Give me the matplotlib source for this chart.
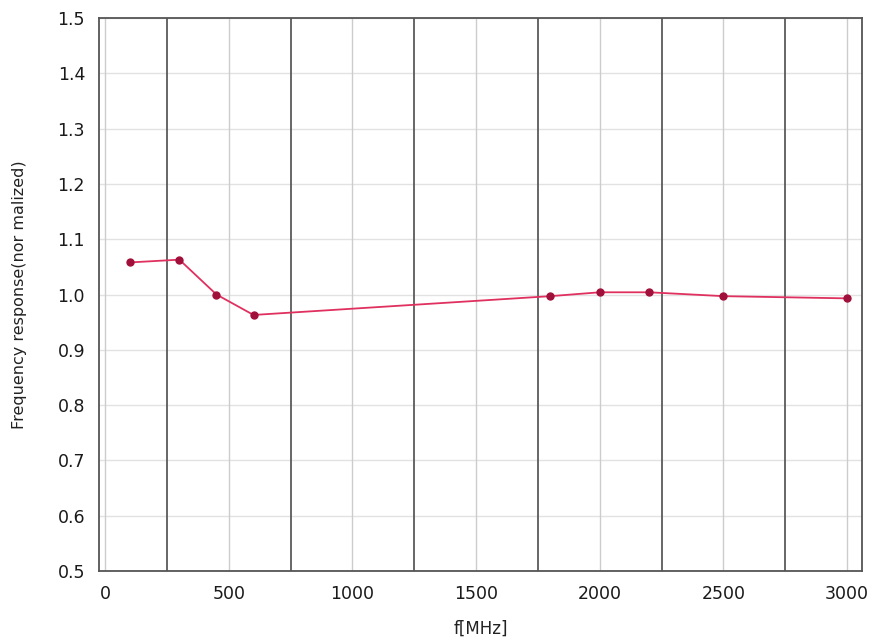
import matplotlib
matplotlib.use("Agg")
import matplotlib.pyplot as plt
import numpy as np

freq_mhz = [100, 300, 450, 600, 1800, 2000, 2200, 2500, 3000]
response = [1.058, 1.063, 1.0, 0.963, 0.997, 1.004, 1.004, 0.997, 0.993]
x_ticks = [0, 500, 1000, 1500, 2000, 2500, 3000]
y_ticks = [0.5, 0.6, 0.7, 0.8, 0.9, 1.0, 1.1, 1.2, 1.3, 1.4, 1.5]
dark_lines = [250, 750, 1250, 1750, 2250, 2750]

fig = plt.figure(figsize=(8.72, 6.44), dpi=100)
ax = fig.add_axes([0.1135, 0.1134, 0.875, 0.8586])

for y in y_ticks:
    ax.axhline(y, color="#e2e2e2", lw=1.0, zorder=0)
for x in x_ticks:
    ax.axvline(x, color="#cccccc", lw=1.0, zorder=0)
for x in dark_lines:
    ax.axvline(x, color="#5a5a5a", lw=1.3, zorder=0.5)

ax.plot(freq_mhz, response, color="#e0305f", lw=1.3, zorder=2)
ax.plot(freq_mhz, response, 'o', color="#a0103a", ms=5, zorder=3)

ax.set_xlim(-25, 3060)
ax.set_ylim(0.5, 1.5)
ax.set_xticks(x_ticks)
ax.set_yticks(y_ticks)
ax.set_yticklabels([f"{v:.1f}" for v in y_ticks])
ax.tick_params(length=0, labelsize=12.5, colors="#1a1a1a", pad=10)
for s in ax.spines.values():
    s.set_color("#555555")
    s.set_linewidth(1.3)

ax.set_xlabel("f[MHz]", fontsize=12, labelpad=12, color="#222222")
ax.set_ylabel("Frequency response(nor malized)", fontsize=11.5, labelpad=22, color="#222222")

fig.savefig("out.png", dpi=100)
